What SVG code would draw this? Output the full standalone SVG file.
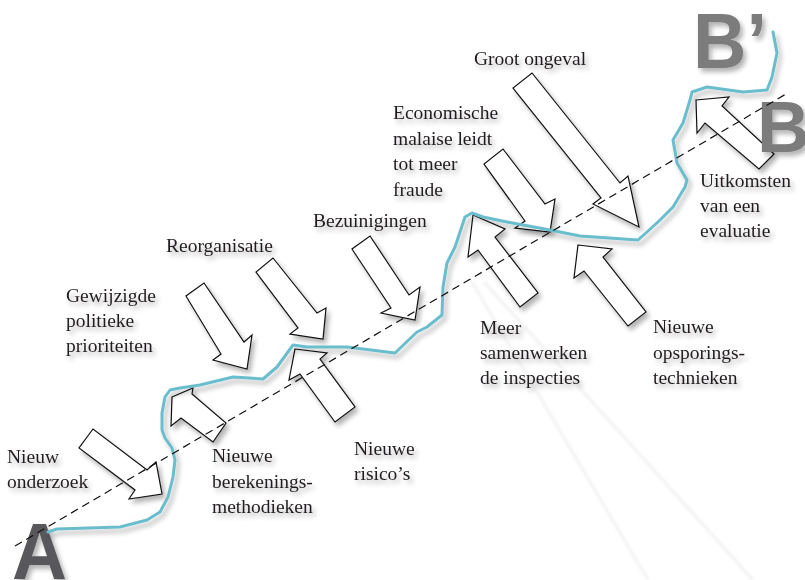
<svg xmlns="http://www.w3.org/2000/svg" width="805" height="580" viewBox="0 0 805 580">
<defs>
<filter id="sh" x="-30%" y="-30%" width="170%" height="170%">
<feGaussianBlur in="SourceAlpha" stdDeviation="2.5"/>
<feOffset dx="3" dy="4" result="b"/>
<feComponentTransfer><feFuncA type="linear" slope="0.3"/></feComponentTransfer>
<feMerge><feMergeNode/><feMergeNode in="SourceGraphic"/></feMerge>
</filter>
<filter id="soft" x="-10%" y="-10%" width="120%" height="120%">
<feGaussianBlur stdDeviation="1.5"/>
</filter>
<style>
.lbl{font-family:"Liberation Serif","Times New Roman",serif;font-size:19.5px;fill:#231f20}
.big{font-family:"Liberation Sans",Arial,sans-serif;font-weight:bold}
.arr{fill:#fff;stroke:#111;stroke-width:1.2;stroke-linejoin:miter}
.path{fill:none;stroke:#6bbdcc;stroke-width:3;stroke-linejoin:round;stroke-linecap:round}
.dash{fill:none;stroke:#111;stroke-width:1.2;stroke-dasharray:8 5}
.ray{fill:none;stroke:#ececec;stroke-width:2}
</style>
</defs>
<rect width="805" height="580" fill="#fff"/>
<g id="rays" filter="url(#soft)">
<line class="ray" x1="472" y1="282" x2="648" y2="580"/>
<line class="ray" x1="484" y1="282" x2="753" y2="580"/>
</g>
<g id="arrows" filter="url(#sh)">
<g id="arrow-nieuw-onderzoek"><polygon class="arr" points="93,429 79,448 135,490 129,499 162,494 156,462 147,470"/></g>
<g id="arrow-berekeningsmethodieken"><polygon class="arr" points="172,397 193,388 192,394 226,423 213,442 181,418 171,426"/></g>
<g id="arrow-politieke-prioriteiten"><polygon class="arr" points="204,283 244,342 252,335 247,369 213,360 221,354 186,296"/></g>
<g id="arrow-reorganisatie"><polygon class="arr" points="273,258 317,313 326,308 323,339 290,334 298,328 256,272"/></g>
<g id="arrow-bezuinigingen"><polygon class="arr" points="370,236 409,295 420,287 415,320 381,313 391,308 352,249"/></g>
<g id="arrow-nieuwe-risicos"><polygon class="arr" points="295,349 327,353 320,359 355,407 335,422 300,374 289,380"/></g>
<g id="arrow-samenwerkende-inspecties"><polygon class="arr" points="473,215 505,229 495,237 538,293 520,307 478,250 468,257"/></g>
<g id="arrow-opsporingstechnieken"><polygon class="arr" points="578,245 612,249 603,257 646,312 628,326 584,271 574,278"/></g>
<g id="arrow-economische-malaise"><polygon class="arr" points="503,149 545,204 555,199 550,232 515,228 525,221 484,164"/></g>
<g id="arrow-groot-ongeval"><polygon class="arr" points="532,73 620,183 628,176 639,227 593,204 601,198 513,88"/></g>
<g id="arrow-uitkomsten-evaluatie"><polygon class="arr" points="696,100 729,97 722,106 774,154 759,169 705,123 697,133"/></g>
</g>
<g id="letters" filter="url(#sh)">
<g id="node-A"><text class="big" x="12" y="579" font-size="80" fill="#58595b" textLength="55" lengthAdjust="spacingAndGlyphs">A</text></g>
<g id="node-B"><text class="big" x="757" y="152" font-size="73" fill="#7b7b7d">B</text></g>
<g id="node-Bprime"><text class="big" x="693" y="68" font-size="78" fill="#7b7b7d" textLength="74" lengthAdjust="spacingAndGlyphs">B’</text></g>
</g>
<g id="connectors">
<path class="path" filter="url(#sh)" d="M48,532 L57,529 L120,527 L147,520 L160,512 L168,497 L173,477 L175,460 L172,448 L165,438 L162,430 L162,413 L165,397 L170,390 L180,388 L200,385 L233,377 L263,379 L277,367 L293,345 L307,347 L347,347 L387,352 L395,353 L417,332 L427,327 L442,315 L443,287 L447,263 L455,247 L465,217 L472,213 L483,217 L507,222 L550,230 L580,236 L638,240 L647,232 L660,220 L673,207 L685,187 L687,180 L677,163 L673,140 L683,123 L690,100 L692,92 L707,87 L743,92 L767,90 L772,77 L777,53 L773,32"/>
<line class="dash" x1="15" y1="546" x2="786" y2="94"/>
</g>
<g id="labels" filter="url(#sh)">
<g id="label-nieuw-onderzoek"><text class="lbl" x="7" y="463">Nieuw</text><text class="lbl" x="7" y="488">onderzoek</text></g>
<g id="label-gewijzigde"><text class="lbl" x="66" y="302">Gewijzigde</text><text class="lbl" x="66" y="327">politieke</text><text class="lbl" x="66" y="352">prioriteiten</text></g>
<g id="label-reorganisatie"><text class="lbl" x="166" y="252">Reorganisatie</text></g>
<g id="label-bezuinigingen"><text class="lbl" x="313" y="227">Bezuinigingen</text></g>
<g id="label-economische"><text class="lbl" x="393" y="119">Economische</text><text class="lbl" x="393" y="144.5">malaise leidt</text><text class="lbl" x="393" y="170">tot meer</text><text class="lbl" x="393" y="195.5">fraude</text></g>
<g id="label-groot-ongeval"><text class="lbl" x="474" y="65">Groot ongeval</text></g>
<g id="label-uitkomsten"><text class="lbl" x="700" y="187">Uitkomsten</text><text class="lbl" x="700" y="212">van een</text><text class="lbl" x="700" y="237">evaluatie</text></g>
<g id="label-opsporing"><text class="lbl" x="653" y="333">Nieuwe</text><text class="lbl" x="653" y="358.5">opsporings-</text><text class="lbl" x="653" y="384">technieken</text></g>
<g id="label-samenwerken"><text class="lbl" x="480" y="334">Meer</text><text class="lbl" x="480" y="359">samenwerken</text><text class="lbl" x="480" y="384">de inspecties</text></g>
<g id="label-risicos"><text class="lbl" x="354" y="455">Nieuwe</text><text class="lbl" x="354" y="480">risico’s</text></g>
<g id="label-berekening"><text class="lbl" x="212" y="462">Nieuwe</text><text class="lbl" x="212" y="488">berekenings-</text><text class="lbl" x="212" y="513">methodieken</text></g>
</g>
</svg>
